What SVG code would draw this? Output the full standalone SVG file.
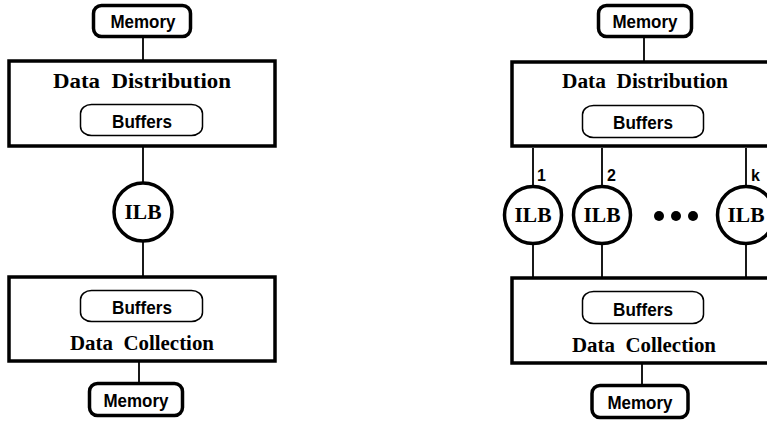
<svg xmlns="http://www.w3.org/2000/svg" width="767" height="422" viewBox="0 0 767 422">
<style>
.mem{fill:#fff;stroke:#000;stroke-width:3.5}
.box{fill:#fff;stroke:#000;stroke-width:3.5}
.buf{fill:#fff;stroke:#000;stroke-width:1.5}
.ilb{fill:#fff;stroke:#000;stroke-width:3.5}
.ln{stroke:#000;stroke-width:1.8;fill:none}
.sans{font-family:"Liberation Sans",Arial,sans-serif;font-weight:bold;font-size:18px;text-anchor:middle;fill:#000}
.ser{font-family:"Liberation Serif","Times New Roman",serif;font-weight:bold;font-size:20px;text-anchor:middle;fill:#000}
.lbl{font-family:"Liberation Sans",Arial,sans-serif;font-weight:bold;font-size:16px;fill:#000}
</style>
<rect width="767" height="422" fill="#fff"/>
<g id="connectors">
<line class="ln" x1="143" y1="38" x2="143" y2="60"/>
<line class="ln" x1="143" y1="147" x2="143" y2="184"/>
<line class="ln" x1="143" y1="241" x2="143" y2="276"/>
<line class="ln" x1="139" y1="362" x2="139" y2="383"/>
<line class="ln" x1="644" y1="38" x2="644" y2="61"/>
<line class="ln" x1="533" y1="148" x2="533" y2="187"/>
<line class="ln" x1="602" y1="148" x2="602" y2="187"/>
<line class="ln" x1="746" y1="148" x2="746" y2="187"/>
<line class="ln" x1="533" y1="243" x2="533" y2="277"/>
<line class="ln" x1="602" y1="243" x2="602" y2="277"/>
<line class="ln" x1="746" y1="243" x2="746" y2="277"/>
<line class="ln" x1="642" y1="364" x2="642" y2="385"/>
<text class="lbl" x="537" y="181">1</text>
<text class="lbl" x="607" y="181">2</text>
<text class="lbl" x="751" y="181">k</text>
</g>
<g id="mem-top-left">
<rect class="mem" x="93.5" y="5.5" width="97" height="31" rx="8"/>
<text class="sans" x="143" y="27.5" textLength="65" lengthAdjust="spacingAndGlyphs">Memory</text>
</g>
<g id="dd-left">
<rect class="box" x="9" y="61" width="266" height="85"/>
<text class="ser" x="142" y="88" textLength="178" lengthAdjust="spacingAndGlyphs">Data&#160;&#160;Distribution</text>
<rect class="buf" x="80.5" y="104.5" width="122" height="31" rx="11" ry="9"/>
<text class="sans" x="142" y="128" textLength="60" lengthAdjust="spacingAndGlyphs">Buffers</text>
</g>
<g id="ilb-left">
<circle class="ilb" cx="143" cy="212" r="29"/>
<text class="ser" x="143" y="219" textLength="37" lengthAdjust="spacingAndGlyphs">ILB</text>
</g>
<g id="dc-left">
<rect class="box" x="9" y="277" width="266" height="84"/>
<rect class="buf" x="80.5" y="290.5" width="122" height="31" rx="11" ry="9"/>
<text class="sans" x="142" y="313.5" textLength="60" lengthAdjust="spacingAndGlyphs">Buffers</text>
<text class="ser" x="142" y="350" textLength="144" lengthAdjust="spacingAndGlyphs">Data&#160;&#160;Collection</text>
</g>
<g id="mem-bottom-left">
<rect class="mem" x="89.5" y="383.5" width="93" height="32" rx="8"/>
<text class="sans" x="136" y="406.5" textLength="65" lengthAdjust="spacingAndGlyphs">Memory</text>
</g>
<g id="mem-top-right">
<rect class="mem" x="598.5" y="5.5" width="93" height="31" rx="8"/>
<text class="sans" x="645" y="27.5" textLength="65" lengthAdjust="spacingAndGlyphs">Memory</text>
</g>
<g id="dd-right">
<rect class="box" x="512" y="62" width="280" height="84"/>
<text class="ser" x="645" y="88" textLength="166" lengthAdjust="spacingAndGlyphs">Data&#160;&#160;Distribution</text>
<rect class="buf" x="582.5" y="105.5" width="121" height="32" rx="11" ry="9"/>
<text class="sans" x="643" y="129" textLength="60" lengthAdjust="spacingAndGlyphs">Buffers</text>
</g>
<g id="ilb-1">
<circle class="ilb" cx="533" cy="215" r="28.5"/>
<text class="ser" x="533" y="222" textLength="37" lengthAdjust="spacingAndGlyphs">ILB</text>
</g>
<g id="ilb-2">
<circle class="ilb" cx="602" cy="215" r="28.5"/>
<text class="ser" x="602" y="222" textLength="37" lengthAdjust="spacingAndGlyphs">ILB</text>
</g>
<g id="dots">
<circle cx="659" cy="216" r="5" fill="#000"/>
<circle cx="676" cy="216" r="5" fill="#000"/>
<circle cx="693" cy="216" r="5" fill="#000"/>
</g>
<g id="ilb-k">
<circle class="ilb" cx="746" cy="215" r="28.5"/>
<text class="ser" x="746" y="222" textLength="37" lengthAdjust="spacingAndGlyphs">ILB</text>
</g>
<g id="dc-right">
<rect class="box" x="512" y="278" width="280" height="85"/>
<rect class="buf" x="582.5" y="291.5" width="121" height="32" rx="11" ry="9"/>
<text class="sans" x="643" y="315.5" textLength="60" lengthAdjust="spacingAndGlyphs">Buffers</text>
<text class="ser" x="644" y="352" textLength="144" lengthAdjust="spacingAndGlyphs">Data&#160;&#160;Collection</text>
</g>
<g id="mem-bottom-right">
<rect class="mem" x="592" y="385.5" width="96" height="32" rx="8"/>
<text class="sans" x="640" y="408.5" textLength="65" lengthAdjust="spacingAndGlyphs">Memory</text>
</g>
</svg>
